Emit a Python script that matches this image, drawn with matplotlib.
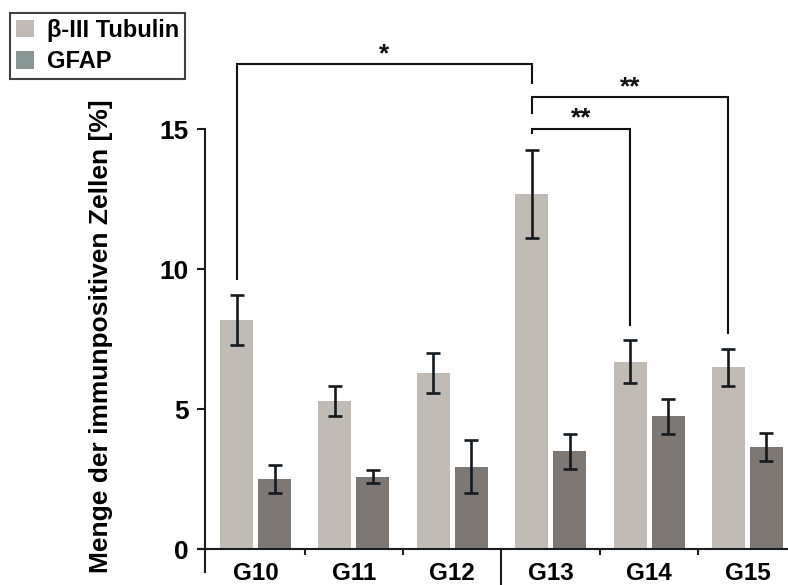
import matplotlib
matplotlib.use("Agg")
import matplotlib.pyplot as plt
from matplotlib.patches import Patch
import numpy as np

plt.rcParams['font.family'] = ['Liberation Sans', 'DejaVu Sans']

groups = ["G10", "G11", "G12", "G13", "G14", "G15"]
tubulin = [8.2, 5.3, 6.3, 12.7, 6.7, 6.5]
tubulin_err = [0.9, 0.53, 0.72, 1.57, 0.76, 0.67]
gfap = [2.5, 2.6, 2.95, 3.5, 4.75, 3.65]
gfap_err = [0.5, 0.22, 0.94, 0.63, 0.63, 0.5]
yticks = [0, 5, 10, 15]

# significance brackets: (group a, group b, label, bracket height, drop at a, drop at b)
brackets = [
    (0, 3, "*", 17.32, 9.65, 16.67),
    (3, 4, "**", 15.01, 14.86, 8.01),
    (3, 5, "**", 16.14, 15.59, 7.74),
]

c_light = "#c0bbb5"
c_dark = "#7d7873"
c_err = "#151a1f"

fig = plt.figure(figsize=(7.88, 5.85), dpi=100)
ax = fig.add_axes([0, 0, 1, 1])
ax.set_xlim(-2.597, 5.412)
ax.set_ylim(-1.275, 19.62)
ax.patch.set_alpha(0)

x = np.arange(len(groups))
off = 0.193
w = 0.335
ekw = dict(ecolor=c_err, elinewidth=1.9, capsize=5.3, capthick=1.9)
ax.bar(x - off, tubulin, w, color=c_light, yerr=tubulin_err, error_kw=ekw, zorder=2)
ax.bar(x + off, gfap, w, color=c_dark, yerr=gfap_err, error_kw=ekw, zorder=2)

# spines
for s in ["top", "right"]:
    ax.spines[s].set_visible(False)
ax.spines["left"].set_position(("data", -0.513))
ax.spines["left"].set_bounds(-0.8, 15)
ax.spines["bottom"].set_position(("data", 0))
ax.spines["bottom"].set_bounds(-0.584, 5.412)
for s in ["left", "bottom"]:
    ax.spines[s].set_linewidth(1.5)
    ax.spines[s].set_color("#1a1d22")

ax.set_yticks(yticks)
ax.set_yticklabels([str(t) for t in yticks], fontsize=19, fontweight="bold")
ax.tick_params(axis="y", direction="out", length=5.5, width=1.5, pad=6.5, color="#1a1d22")

ax.set_xticks(x)
ax.set_xticklabels(groups, fontsize=17.5, fontweight="bold")
ax.tick_params(axis="x", which="major", length=0, pad=9.0)
ax.set_xticks([0.5, 1.5, 3.5, 4.5], minor=True)
ax.tick_params(axis="x", which="minor", direction="out", length=4.5, width=1.5, color="#1a1d22")
# separator between the two halves of the series
ax.plot([2.5, 2.5], [0, -1.275], color="#1a1d22", lw=1.5, clip_on=False)

# significance brackets
for a, b, lab, top, ya, yb in brackets:
    xa, xb = a - off, b - off
    ax.plot([xa, xa, xb, xb], [ya, top, top, yb], color="#111111", lw=1.5,
            solid_joinstyle="miter")
    ax.text((xa + xb) / 2, top + 0.12, lab, ha="center", va="baseline",
            fontsize=19, fontweight="bold", color="#111111")

fig.text(101 / 788, 1 - 336 / 585, "Menge der immunpositiven Zellen [%]",
         rotation=90, ha="center", va="center", fontsize=19, fontweight="bold")

handles = [Patch(facecolor=c_light, edgecolor="none", label="β-III Tubulin"),
           Patch(facecolor="#889793", edgecolor="none", label="GFAP")]
leg = fig.legend(handles=handles, loc="upper left",
                 bbox_to_anchor=(10 / 788, 1 - 13 / 585),
                 prop=dict(size=17, weight="bold"), frameon=True, fancybox=False,
                 handlelength=0.75, handleheight=0.75, handletextpad=0.55,
                 borderpad=0.25, labelspacing=0.35, borderaxespad=0)
leg.get_frame().set_edgecolor("#111111")
leg.get_frame().set_linewidth(1.5)

fig.savefig("out.png", dpi=100)
